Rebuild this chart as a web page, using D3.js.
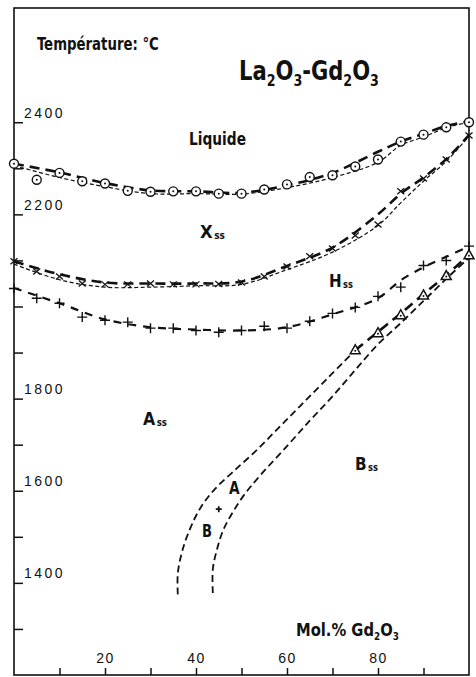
<!DOCTYPE html>
<html>
<head>
<meta charset="utf-8">
<script src="https://cdn.jsdelivr.net/npm/d3@7"></script>
<style>
  body { margin: 0; background: #fff; }
  svg { display: block; }
</style>
</head>
<body>
<svg width="476" height="677"></svg>
<script>
// values: [mol % Gd2O3, temperature C]
let liquidusPts = [[0,2310],[5,2275],[10,2290],[15,2272],[20,2267],[25,2251],[30,2249],[35,2250],[40,2250],[45,2245],[50,2245],[55,2254],[60,2265],[65,2281],[70,2285],[75,2304],[80,2319],[85,2358],[90,2373],[95,2389],[100,2400]];
let liquidusHeavy = [[0,2310],[10,2291],[20,2268],[30,2252],[40,2250],[50,2247],[60,2263],[70,2290],[80,2336],[85,2358],[90,2375],[95,2392],[100,2402]];
let liquidusThin = [[0,2306],[10,2280],[20,2260],[30,2245],[40,2245],[50,2244],[60,2258],[70,2280],[80,2313],[85,2350],[90,2368],[95,2388],[100,2400]];

let xssPts = [[0,2098],[5,2076],[10,2065],[15,2050],[20,2048],[25,2048],[30,2050],[35,2048],[40,2048],[45,2049],[50,2052],[55,2065],[60,2087],[65,2109],[70,2126],[75,2154],[80,2178],[85,2250],[90,2278],[95,2319],[100,2371]];
let xssHeavy = [[0,2098],[10,2070],[20,2052],[30,2050],[40,2050],[50,2054],[60,2088],[70,2128],[80,2200],[85,2245],[90,2280],[95,2320],[100,2372]];
let xssThin = [[0,2092],[10,2058],[20,2042],[30,2042],[40,2045],[50,2048],[60,2080],[70,2118],[80,2176],[85,2225],[90,2272],[95,2315],[100,2370]];

let hssPts = [[0,2039],[5,2018],[10,2007],[15,1977],[20,1970],[25,1966],[30,1953],[35,1953],[40,1948],[45,1944],[50,1948],[55,1957],[60,1953],[65,1968],[70,1985],[75,1998],[80,2022],[85,2042],[90,2089],[95,2100],[100,2131]];
let hssLine = [[0,2040],[10,2007],[20,1972],[30,1955],[40,1950],[50,1948],[60,1955],[70,1983],[80,2018],[85,2057],[90,2085],[95,2108],[100,2130]];

let bssPts = [[75,1905],[80,1942],[85,1981],[90,2024],[95,2066],[100,2111]];
let bssHeavy = [[75,1905],[80,1945],[85,1985],[90,2027],[95,2068],[100,2112]];

let abLeft = [[36,1375],[36,1420],[37,1470],[38.8,1520],[41,1563],[44,1602],[48,1640],[53,1685],[58,1735],[63,1785],[69,1845],[75,1905]];
let abRight = [[43.7,1378],[43.7,1430],[44.6,1472],[46,1515],[48,1552],[50.5,1590],[54,1632],[60,1697],[65,1752],[70,1805],[75,1862],[80,1918],[85,1964],[90,2012],[95,2060],[100,2106]];
let singlePt = [[45,1560]];

let yTicks = [1300,1400,1500,1600,1700,1800,1900,2000,2100,2200,2300,2400];
let yLabels = [1400,1600,1800,2200,2400];
let xTicks = [10,20,30,40,50,60,70,80,90];
let xLabels = [20,40,60,80];

let svg = d3.select("svg");
let cond = "'Liberation Sans Narrow','DejaVu Sans Condensed','Liberation Sans',sans-serif";

let x = d3.scaleLinear().domain([0, 100]).range([14, 469]),
    y = d3.scaleLinear().domain([1200, 2648]).range([675, 8]);

// frame
svg.append("rect")
    .attr("x", x(0)).attr("y", y(2648))
    .attr("width", x(100) - x(0)).attr("height", y(1200) - y(2648))
    .attr("fill", "none").attr("stroke", "#111").attr("stroke-width", 1.6);

let yAxis = svg.append("g")
    .attr("transform", "translate(" + x(0) + ",0)")
    .call(d3.axisRight(y).tickValues(yTicks).tickSize(9).tickSizeOuter(0)
        .tickFormat(function (d) { return yLabels.indexOf(d) >= 0 ? d : ""; }));
yAxis.select(".domain").remove();
yAxis.selectAll("line").attr("stroke", "#111").attr("stroke-width", 1.5);
yAxis.selectAll("text")
    .attr("x", 10).attr("y", -5).attr("dy", 0)
    .attr("text-anchor", "start")
    .style("font-family", "'Liberation Sans',Arial,sans-serif")
    .style("font-size", "14px").style("letter-spacing", "2.5px")
    .attr("fill", "#111");

let xAxis = svg.append("g")
    .attr("transform", "translate(0," + y(1200) + ")")
    .call(d3.axisTop(x).tickValues(xTicks).tickSize(7).tickSizeOuter(0)
        .tickFormat(function (d) { return xLabels.indexOf(d) >= 0 ? d : ""; }));
xAxis.select(".domain").remove();
xAxis.selectAll("line").attr("stroke", "#111").attr("stroke-width", 1.5);
xAxis.selectAll("text")
    .attr("y", -12).attr("dy", 0)
    .style("font-family", "'Liberation Sans',Arial,sans-serif")
    .style("font-size", "14px").style("letter-spacing", "1.5px")
    .attr("fill", "#111");

let line = d3.line()
    .x(function (d) { return x(d[0]); })
    .y(function (d) { return y(d[1]); })
    .curve(d3.curveCatmullRom.alpha(0.5));

let drawLine = function (data, width, dash) {
    svg.append("path")
        .datum(data)
        .attr("d", line)
        .attr("fill", "none")
        .attr("stroke", "#111")
        .attr("stroke-width", width)
        .attr("stroke-dasharray", dash);
};

drawLine(liquidusThin, 1.2, "4,2.5");
drawLine(liquidusHeavy, 2.6, "10,6");
drawLine(xssThin, 1.2, "4,2.5");
drawLine(xssHeavy, 2.6, "10,6");
drawLine(hssLine, 2.2, "8,7");
drawLine(abLeft, 1.8, "7,4");
drawLine(abRight, 1.8, "7,4");
drawLine(bssHeavy, 2.6, "10,6");

// markers
let circ = svg.append("g").selectAll("g").data(liquidusPts).enter().append("g")
    .attr("transform", function (d) { return "translate(" + x(d[0]) + "," + y(d[1]) + ")"; });
circ.append("circle").attr("r", 4.5).attr("fill", "#fff").attr("stroke", "#111").attr("stroke-width", 1.4);
circ.append("circle").attr("r", 1).attr("fill", "#111");

svg.append("g").selectAll("path").data(xssPts).enter().append("path")
    .attr("d", "M-3.5,-3L3.5,3M-3.5,3L3.5,-3")
    .attr("transform", function (d) { return "translate(" + x(d[0]) + "," + y(d[1]) + ")"; })
    .attr("stroke", "#111").attr("stroke-width", 1.3).attr("fill", "none");

svg.append("g").selectAll("path").data(hssPts).enter().append("path")
    .attr("d", "M-5,0H5M0,-5V5")
    .attr("transform", function (d) { return "translate(" + x(d[0]) + "," + y(d[1]) + ")"; })
    .attr("stroke", "#111").attr("stroke-width", 1.4).attr("fill", "none");

let tri = svg.append("g").selectAll("g").data(bssPts).enter().append("g")
    .attr("transform", function (d) { return "translate(" + x(d[0]) + "," + y(d[1]) + ")"; });
tri.append("path").attr("d", "M0,-5.5L5,3.5H-5Z")
    .attr("fill", "#fff").attr("stroke", "#111").attr("stroke-width", 1.5);
tri.append("circle").attr("cy", 0.5).attr("r", 1).attr("fill", "#111");

svg.append("g").selectAll("path").data(singlePt).enter().append("path")
    .attr("d", "M-3,0H3M0,-3V3")
    .attr("transform", function (d) { return "translate(" + x(d[0]) + "," + y(d[1]) + ")"; })
    .attr("stroke", "#111").attr("stroke-width", 1.8);

// labels: parts [text, kind] where kind is "" normal, "sub" subscript, "ss" small low
let label = function (x0, yb, parts, size, width) {
    let g = svg.append("g");
    let t = g.append("text")
        .style("font-family", cond).style("font-weight", "bold")
        .style("font-size", size + "px").attr("fill", "#111");
    let shift = 0;
    parts.forEach(function (p) {
        let want = p[1] === "sub" ? size * 0.22 : (p[1] === "ss" ? size * 0.06 : 0);
        t.append("tspan")
            .attr("dy", want - shift)
            .style("font-size", (p[1] ? size * (p[1] === "ss" ? 0.55 : 0.6) : size) + "px")
            .attr("dx", p[1] === "ss" ? 1.5 : 0)
            .text(p[0]);
        shift = want;
    });
    let w = t.node().getBBox().width;
    g.attr("transform", "translate(" + x0 + "," + yb + ") scale(" + (width / w) + ",1)");
};

label(37, 50, [["Température: °C", ""]], 17, 122);
label(239, 80, [["La", ""], ["2", "sub"], ["O", ""], ["3", "sub"], ["-Gd", ""], ["2", "sub"], ["O", ""], ["3", "sub"]], 27, 140);
label(189, 145, [["Liquide", ""]], 18, 57);
label(200, 238, [["X", ""], ["ss", "ss"]], 18, 25);
label(329, 287, [["H", ""], ["ss", "ss"]], 18, 24);
label(143, 425, [["A", ""], ["ss", "ss"]], 18, 24);
label(355, 470, [["B", ""], ["ss", "ss"]], 18, 23);
label(229, 494, [["A", ""]], 18, 11);
label(202, 537, [["B", ""]], 18, 10);
label(296, 636, [["Mol.% Gd", ""], ["2", "sub"], ["O", ""], ["3", "sub"]], 17, 103);
</script>
</body>
</html>
